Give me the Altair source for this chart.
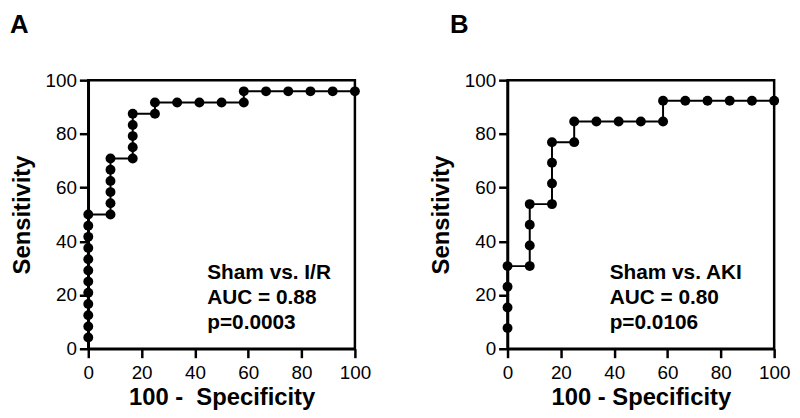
import altair as alt
import pandas as pd

FONT = "Liberation Sans"

# Panel A: Sham vs. I/R  (x = 100 - Specificity, y = Sensitivity)
a_x = [0, 0, 0, 0, 0, 0, 0, 0, 0, 0, 0, 0,
       8.33, 8.33, 8.33, 8.33, 8.33, 8.33,
       16.67, 16.67, 16.67, 16.67, 16.67,
       25, 25, 33.33, 41.67, 50, 58.33, 58.33,
       66.67, 75, 83.33, 91.67, 100]
a_y = [4.17, 8.33, 12.5, 16.67, 20.83, 25, 29.17, 33.33, 37.5, 41.67, 45.83, 50,
       50, 54.17, 58.33, 62.5, 66.67, 70.83,
       70.83, 75, 79.17, 83.33, 87.5,
       87.5, 91.67, 91.67, 91.67, 91.67, 91.67, 95.83,
       95.83, 95.83, 95.83, 95.83, 95.83]

# Panel B: Sham vs. AKI
b_x = [0, 0, 0, 0,
       8.33, 8.33, 8.33, 8.33,
       16.67, 16.67, 16.67, 16.67,
       25, 25, 33.33, 41.67, 50, 58.33, 58.33,
       66.67, 75, 83.33, 91.67, 100]
b_y = [7.69, 15.38, 23.08, 30.77,
       30.77, 38.46, 46.15, 53.85,
       53.85, 61.54, 69.23, 76.92,
       76.92, 84.62, 84.62, 84.62, 84.62, 84.62, 92.31,
       92.31, 92.31, 92.31, 92.31, 92.31]

ticks = [0, 20, 40, 60, 80, 100]
ann_a = "Sham vs. I/R\nAUC = 0.88\np=0.0003"
ann_b = "Sham vs. AKI\nAUC = 0.80\np=0.0106"


def axis(title, label_pad, title_pad):
    return alt.Axis(
        title=title, values=ticks, grid=False,
        domainColor="black", domainWidth=2.5,
        tickColor="black", tickWidth=2.5, tickSize=9,
        labelFont=FONT, labelFontSize=19, labelColor="black",
        labelPadding=label_pad, labelFlush=False, labelOverlap=False,
        titleFont=FONT, titleFontSize=24, titleFontWeight="bold",
        titleColor="black", titlePadding=title_pad,
    )


def panel(xs, ys, letter, letter_x, ann, ann_x, xtitle, w):
    df = pd.DataFrame({"x": xs, "y": ys, "i": list(range(len(xs)))})
    xenc = alt.X("x:Q", scale=alt.Scale(domain=[0, 100], nice=False),
                 axis=axis(xtitle, 6, 3))
    yenc = alt.Y("y:Q", scale=alt.Scale(domain=[0, 100], nice=False),
                 axis=axis("Sensitivity", 3, 11))
    base = alt.Chart(df)
    line = base.mark_line(color="black", strokeWidth=2).encode(
        x=xenc, y=yenc, order="i:Q")
    pts = base.mark_point(filled=True, shape="circle", color="black",
                          size=100, opacity=1).encode(x="x:Q", y="y:Q")
    lab = alt.Chart(pd.DataFrame({"t": [letter]})).mark_text(
        align="left", baseline="top", font=FONT, fontSize=26,
        fontWeight="bold", color="black").encode(
        x=alt.value(letter_x), y=alt.value(-69), text="t:N")
    txt = alt.Chart(pd.DataFrame({"t": [ann]})).mark_text(
        align="left", baseline="alphabetic", font=FONT, fontSize=21,
        fontWeight="bold", color="black", lineBreak="\n",
        lineHeight=25).encode(
        x=alt.value(ann_x), y=alt.value(201), text="t:N")
    return alt.layer(line, pts, lab, txt).properties(width=w, height=271)


a = panel(a_x, a_y, "A", -79, ann_a, 120, "100 -\u00a0 Specificity", 269)
b = panel(b_x, b_y, "B", -58, ann_b, 103, "100 - Specificity", 269)

chart = alt.hconcat(a, b, spacing=56, padding=0).configure_view(
    stroke="black", strokeWidth=2.5)

chart.save("out.html", embed_options={"renderer": "svg", "actions": False})
